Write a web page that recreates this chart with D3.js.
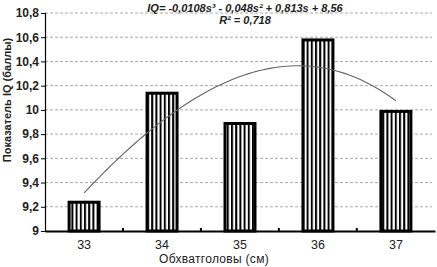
<!DOCTYPE html>
<html><head><meta charset="utf-8">
<script src="https://cdn.jsdelivr.net/npm/d3@7"></script>
<style>body{margin:0;background:#fff}svg{display:block}text{font-family:"Liberation Sans",Arial,sans-serif}</style>
</head><body>
<script>
const categories = ["33","34","35","36","37"];
const values = [9.25, 10.15, 9.9, 10.59, 10.0];
const yTicks = [9, 9.2, 9.4, 9.6, 9.8, 10, 10.2, 10.4, 10.6, 10.8];
// cubic trendline coefficients shown on the chart: a*s^3 + b*s^2 + c*s + d, s = 1..5
const trendCoef = [-0.0108, -0.048, 0.813, 8.56];
const equationText = "IQ= -0,0108s³ - 0,048s² + 0,813s + 8,56";
const r2Text = "R² = 0,718";
const yTitle = "Показатель IQ (баллы)";
const xTitle = "Обхватголовы (см)";

const W = 437, H = 267;
const m = {l:45, r:2, t:13, b:36};
const svg = d3.select("body").append("svg").attr("width", W).attr("height", H);

const defs = svg.append("defs");
const pat = defs.append("pattern").attr("id","stripes").attr("patternUnits","userSpaceOnUse")
  .attr("width",4.2).attr("height",10);
pat.append("rect").attr("width",4.2).attr("height",10).attr("fill","#fff");
pat.append("rect").attr("x",0).attr("width",2).attr("height",10).attr("fill","#000");

const x = d3.scaleBand().domain(categories).range([m.l, W - m.r]).paddingInner(0.577).paddingOuter(0.29);
const y = d3.scaleLinear().domain([9, 10.8]).range([H - m.b, m.t]);
const fmt = v => String(+v.toFixed(1)).replace(".", ",");

// grid
svg.append("g").selectAll("line").data(yTicks.filter(v => v > 9)).join("line")
  .attr("x1", m.l).attr("x2", W - 5).attr("y1", d => y(d)).attr("y2", d => y(d))
  .attr("stroke", "#aaa").attr("stroke-width", 1).attr("stroke-dasharray", "3,2");

// y axis
const ya = svg.append("g").attr("transform", `translate(${m.l},0)`)
  .call(d3.axisLeft(y).tickValues(yTicks).tickFormat(fmt).tickSize(4).tickPadding(2));
ya.select(".domain").attr("stroke","#000").attr("stroke-width",1.2);
ya.selectAll(".tick line").attr("stroke","#000");
ya.selectAll("text").attr("font-size", 12).attr("font-weight","bold").attr("fill","#222")
  .attr("font-family", '"Liberation Sans",Arial,sans-serif');

// bars
svg.append("g").selectAll("rect").data(values).join("rect")
  .attr("x", (d,i) => x(categories[i]) + 1.5)
  .attr("width", x.bandwidth() - 3)
  .attr("y", d => y(d) + 1.5)
  .attr("height", d => y(9) - y(d) - 1.5)
  .attr("fill", "url(#stripes)").attr("stroke", "#000").attr("stroke-width", 3);

// x axis
const xa = svg.append("g").attr("transform", `translate(0,${y(9)})`)
  .call(d3.axisBottom(x).tickSize(0).tickPadding(9));
xa.select(".domain").attr("stroke","#000").attr("stroke-width",2.2);
xa.selectAll("text").attr("font-size", 12.5).attr("fill","#222")
  .attr("font-family", '"Liberation Sans",Arial,sans-serif');
// small boundary ticks
const step = x.step();
svg.append("g").selectAll("line").data(d3.range(1, categories.length)).join("line")
  .attr("x1", d => m.l + d*step).attr("x2", d => m.l + d*step)
  .attr("y1", y(9) - 3).attr("y2", y(9))
  .attr("stroke","#000").attr("stroke-width",2);

// trendline
const poly = s => trendCoef[0]*s*s*s + trendCoef[1]*s*s + trendCoef[2]*s + trendCoef[3];
const sx = d3.scaleLinear().domain([1, categories.length])
  .range([x(categories[0]) + x.bandwidth()/2, x(categories[categories.length-1]) + x.bandwidth()/2]);
const sVals = d3.range(1, categories.length + 0.001, 0.05);
svg.append("path").datum(sVals)
  .attr("d", d3.line().x(s => sx(s)).y(s => y(poly(s))))
  .attr("fill","none").attr("stroke","#666").attr("stroke-width",1.1);

// equation
svg.append("text").attr("x", 245).attr("y", 12).attr("text-anchor","middle")
  .attr("font-size", 11).attr("font-weight","bold").attr("font-style","italic").attr("fill","#222")
  .text(equationText);
svg.append("text").attr("x", 245).attr("y", 24).attr("text-anchor","middle")
  .attr("font-size", 11).attr("font-weight","bold").attr("font-style","italic").attr("fill","#222")
  .text(r2Text);

// titles
svg.append("text").attr("transform", `translate(11,${100}) rotate(-90)`).attr("text-anchor","middle")
  .attr("font-size", 11).attr("font-weight","bold").attr("fill","#222").text(yTitle);
svg.append("text").attr("x", 214).attr("y", 263).attr("text-anchor","middle")
  .attr("font-size", 12).attr("letter-spacing", 0.3).attr("fill","#222").text(xTitle);
</script>
</body></html>
